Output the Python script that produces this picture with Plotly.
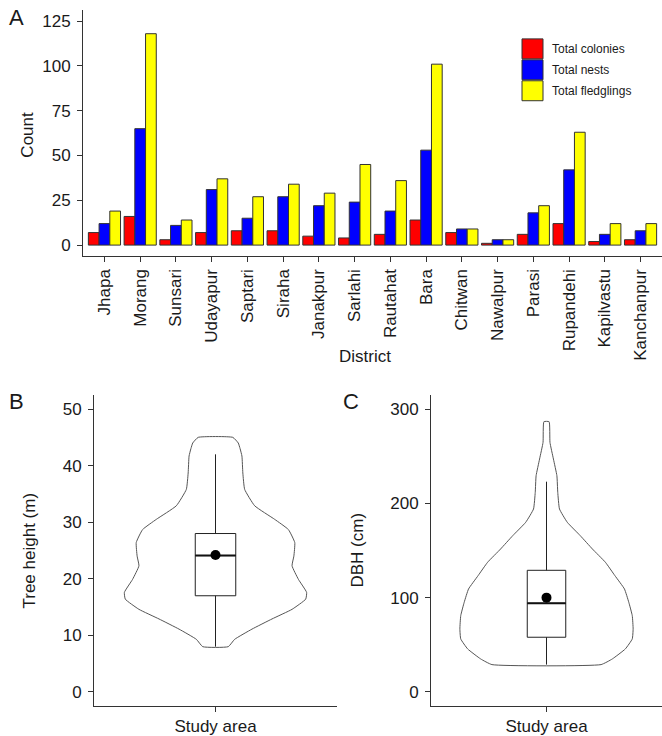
import plotly.graph_objects as go

W, H = 662, 736

# ---------------- Data ----------------
districts = ["Jhapa", "Morang", "Sunsari", "Udayapur", "Saptari", "Siraha", "Janakpur",
             "Sarlahi", "Rautahat", "Bara", "Chitwan", "Nawalpur", "Parasi", "Rupandehi",
             "Kapilvastu", "Kanchanpur"]
colonies = [7, 16, 3, 7, 8, 8, 5, 4, 6, 14, 7, 1, 6, 12, 2, 3]
nests = [12, 65, 11, 31, 15, 27, 22, 24, 19, 53, 9, 3, 18, 42, 6, 8]
fledglings = [19, 118, 14, 37, 27, 34, 29, 45, 36, 101, 9, 3, 22, 63, 12, 12]
series_names = ["Total colonies", "Total nests", "Total fledglings"]
series_colors = ["#ff0000", "#0000ff", "#ffff00"]
count_ticks = [0, 25, 50, 75, 100, 125]

# Tree height violin outline (value, relative density) and box stats
height_y = [8.0, 9.3, 11.1, 12.9, 14.6, 16.4, 17.6, 19.9, 22.3, 24.0, 26.4, 28.7,
            30.5, 32.9, 35.8, 38.7, 41.7, 43.0, 44.0, 45.0]
height_rel = [0.14, 0.21, 0.40, 0.62, 0.84, 0.99, 1.00, 0.91, 0.84, 0.86, 0.87, 0.80,
              0.65, 0.43, 0.32, 0.30, 0.29, 0.27, 0.25, 0.19]
height_stats = {"lowerfence": 8, "q1": 17, "median": 24.1, "q3": 28, "upperfence": 42, "mean": 24.2}
height_ticks = [0, 10, 20, 30, 40, 50]

# DBH violin outline and box stats
dbh_y = [29, 35, 45.6, 56.2, 66.8, 80.9, 95.1, 109.2, 123.3, 137.5, 151.6, 165.7,
         179.9, 194, 211.7, 229.3, 247, 264.7, 286.6]
dbh_rel = [0.63, 0.76, 0.91, 0.99, 1.00, 0.99, 0.95, 0.90, 0.79, 0.68, 0.53, 0.39,
           0.24, 0.15, 0.13, 0.12, 0.08, 0.04, 0.03]
dbh_stats = {"lowerfence": 29, "q1": 58, "median": 94, "q3": 129, "upperfence": 223, "mean": 100}
dbh_ticks = [0, 100, 200, 300]

group_label = "Study area"

# ---------------- Helpers ----------------
def px_x(p):
    return p / W

def px_y(p):
    return 1 - p / H

FONT = "Liberation Sans, Arial, sans-serif"
TXT = "#1a1a1a"
AX = "#333333"
VW = 0.45  # half of violin width
BW = 0.2   # box width

fig = go.Figure()

# ---- Panel A: grouped bars
for name, vals, col in zip(series_names, [colonies, nests, fledglings], series_colors):
    fig.add_trace(go.Bar(x=districts, y=vals, name=name, marker=dict(color=col, line=dict(color="#333333", width=1)),
                         xaxis="x", yaxis="y", showlegend=False))

# ---- Violin + box helper
def add_violin(yv, rel, stats, xa, ya):
    xs = [1 + VW * r for r in rel] + [1 - VW * r for r in reversed(rel)]
    ys = list(yv) + list(reversed(yv))
    xs.append(xs[0]); ys.append(ys[0])
    fig.add_trace(go.Scatter(x=xs, y=ys, mode="lines", line=dict(color="#555555", width=1, shape="spline", smoothing=0.4),
                             xaxis=xa, yaxis=ya, showlegend=False, hoverinfo="skip"))
    fig.add_trace(go.Box(x=[1], q1=[stats["q1"]], median=[stats["median"]], q3=[stats["q3"]],
                         lowerfence=[stats["lowerfence"]], upperfence=[stats["upperfence"]],
                         width=BW, whiskerwidth=0, fillcolor="white", boxpoints=False,
                         line=dict(color="#222222", width=1), xaxis=xa, yaxis=ya, showlegend=False))
    fig.add_trace(go.Scatter(x=[1 - BW / 2, 1 + BW / 2], y=[stats["median"]] * 2, mode="lines",
                             line=dict(color="#111111", width=2), xaxis=xa, yaxis=ya, showlegend=False))
    fig.add_trace(go.Scatter(x=[1], y=[stats["mean"]], mode="markers", marker=dict(color="black", size=10),
                             xaxis=xa, yaxis=ya, showlegend=False))

add_violin(height_y, height_rel, height_stats, "x2", "y2")
add_violin(dbh_y, dbh_rel, dbh_stats, "x3", "y3")

axis_common = dict(showline=True, linecolor=AX, linewidth=1, ticks="outside", ticklen=5, tickcolor=AX,
                   showgrid=False, zeroline=False, tickfont=dict(size=17, color=TXT, family=FONT))

fig.update_layout(
    width=W, height=H, margin=dict(l=0, r=0, t=0, b=0),
    paper_bgcolor="white", plot_bgcolor="white",
    barmode="group", bargap=0.1, bargroupgap=0,
    font=dict(family=FONT, color=TXT),
    xaxis=dict(domain=[px_x(83), 1.0], anchor="y", type="category", range=[-0.6, 15.6], tickangle=-90,
               **axis_common),
    yaxis=dict(domain=[px_y(257), px_y(10)], anchor="x", range=[-6.25, 131.25], tickvals=count_ticks,
               ticklabelstandoff=3, **axis_common),
    xaxis2=dict(domain=[px_x(94), px_x(337)], anchor="y2", range=[0.4, 1.6], tickvals=[1],
                ticktext=[group_label], **axis_common),
    yaxis2=dict(domain=[px_y(708), px_y(396)], anchor="x2", range=[-2.5, 52.5], tickvals=height_ticks,
                ticklabelstandoff=3, **axis_common),
    xaxis3=dict(domain=[px_x(431), 1.0], anchor="y3", range=[0.4, 1.6], tickvals=[1],
                ticktext=[group_label], **axis_common),
    yaxis3=dict(domain=[px_y(708), px_y(396)], anchor="x3", range=[-15, 315], tickvals=dbh_ticks,
                ticklabelstandoff=3, **axis_common),
)

# ---- Manual legend (panel A)
shapes = []
annotations = []
key_top = 39
key_h = 21
for i, (name, col) in enumerate(zip(series_names, series_colors)):
    t = key_top + i * key_h
    shapes.append(dict(type="rect", xref="paper", yref="paper", x0=px_x(522), x1=px_x(543),
                       y0=px_y(t + key_h - 1), y1=px_y(t), fillcolor=col, line=dict(color="#333333", width=1)))
    annotations.append(dict(xref="paper", yref="paper", x=px_x(550), y=px_y(t + key_h / 2), text=name,
                            showarrow=False, xanchor="left", yanchor="middle",
                            font=dict(size=12, color=TXT, family=FONT)))

def title(text, x, y, angle=0, size=17):
    annotations.append(dict(xref="paper", yref="paper", x=px_x(x), y=px_y(y), text=text, showarrow=False,
                            xanchor="center", yanchor="middle", textangle=angle,
                            font=dict(size=size, color=TXT, family=FONT)))

title("Count", 28, 135, -90)
title("District", 365, 357)
title("Tree height (m)", 29, 552, -90)
title("DBH (cm)", 357, 552, -90)
title("A", 16, 18, 0, 22)
title("B", 16, 403, 0, 22)
title("C", 351, 403, 0, 22)

fig.update_layout(shapes=shapes, annotations=annotations)

fig.write_html("out.html", config={"displayModeBar": False},
               post_script="document.body.style.margin='0px';document.body.style.overflow='hidden';")
